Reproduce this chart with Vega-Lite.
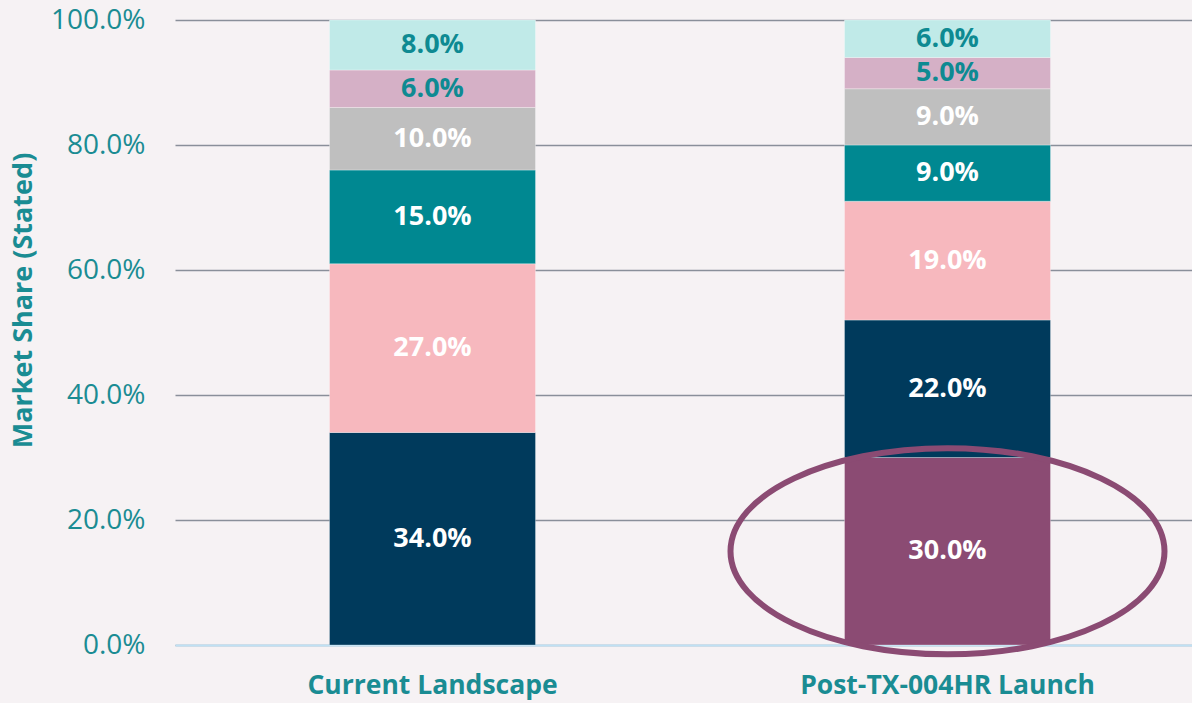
{
  "$schema": "https://vega.github.io/schema/vega-lite/v6.json",
  "autosize": "none",
  "padding": {"left": 175, "top": 20, "right": 0, "bottom": 58},
  "width": 1030,
  "height": 625,
  "background": "#F6F2F4",
  "config": {
    "view": {"stroke": null},
    "font": "Open Sans"
  },
  "datasets": {
    "bars": [
      {"category": "Current Landscape", "segment": "Other A", "share": 34, "order": 1, "labelColor": "white"},
      {"category": "Current Landscape", "segment": "Other B", "share": 27, "order": 2, "labelColor": "white"},
      {"category": "Current Landscape", "segment": "Other C", "share": 15, "order": 3, "labelColor": "white"},
      {"category": "Current Landscape", "segment": "Other D", "share": 10, "order": 4, "labelColor": "white"},
      {"category": "Current Landscape", "segment": "Other E", "share": 6, "order": 5, "labelColor": "teal"},
      {"category": "Current Landscape", "segment": "Other F", "share": 8, "order": 6, "labelColor": "teal"},
      {"category": "Post-TX-004HR Launch", "segment": "TX-004HR", "share": 30, "order": 0, "labelColor": "white"},
      {"category": "Post-TX-004HR Launch", "segment": "Other A", "share": 22, "order": 1, "labelColor": "white"},
      {"category": "Post-TX-004HR Launch", "segment": "Other B", "share": 19, "order": 2, "labelColor": "white"},
      {"category": "Post-TX-004HR Launch", "segment": "Other C", "share": 9, "order": 3, "labelColor": "white"},
      {"category": "Post-TX-004HR Launch", "segment": "Other D", "share": 9, "order": 4, "labelColor": "white"},
      {"category": "Post-TX-004HR Launch", "segment": "Other E", "share": 5, "order": 5, "labelColor": "teal"},
      {"category": "Post-TX-004HR Launch", "segment": "Other F", "share": 6, "order": 6, "labelColor": "teal"}
    ],
    "highlight": [
      {"category": "Post-TX-004HR Launch", "center": 15.0}
    ]
  },
  "encoding": {
    "x": {
      "field": "category",
      "type": "nominal",
      "sort": ["Current Landscape", "Post-TX-004HR Launch"],
      "scale": {"paddingInner": 0.6, "paddingOuter": 0.3},
      "axis": {
        "title": null,
        "labelAngle": 0,
        "labelFont": "Open Sans",
        "labelFontSize": 26.5,
        "labelFontWeight": "bold",
        "labelColor": "#1A8C93",
        "labelPadding": 27,
        "labelLimit": 0,
        "ticks": false,
        "domain": true,
        "domainColor": "#BFE1F4",
        "domainWidth": 2
      }
    }
  },
  "layer": [
    {
      "data": {"name": "bars"},
      "transform": [
        {"stack": "share", "groupby": ["category"], "sort": [{"field": "order"}], "as": ["y0", "y1"]},
        {"calculate": "(datum.y0 + datum.y1) / 2", "as": "mid"},
        {"calculate": "format(datum.share, '.1f') + '%'", "as": "label"}
      ],
      "layer": [
        {
          "mark": {"type": "bar", "stroke": "#ffffff", "strokeWidth": 0.6, "strokeOpacity": 0.5},
          "encoding": {
            "y": {
              "field": "y0",
              "type": "quantitative",
              "scale": {"domain": [0, 100], "nice": false},
              "axis": {
                "title": "Market Share (Stated)",
                "titleFont": "Open Sans",
                "titleFontSize": 27,
                "titleFontWeight": "bold",
                "titleColor": "#1A8C93",
                "titlePadding": 13,
                "titleY": 280,
                "values": [0, 20, 40, 60, 80, 100],
                "labelExpr": "format(datum.value, '.1f') + '%'",
                "labelFont": "Open Sans",
                "labelFontSize": 28,
                "labelColor": "#1A8C93",
                "labelPadding": 30,
                "ticks": false,
                "domain": false,
                "grid": true,
                "gridColor": "#8A8F9A",
                "gridWidth": 1.5
              }
            },
            "y2": {"field": "y1"},
            "color": {
              "field": "segment",
              "type": "nominal",
              "legend": null,
              "scale": {
                "domain": ["TX-004HR", "Other A", "Other B", "Other C", "Other D", "Other E", "Other F"],
                "range": ["#8B4B73", "#003A5C", "#F7B8BE", "#008891", "#BFBFBF", "#D5B0C6", "#C0EAE8"]
              }
            }
          }
        },
        {
          "transform": [{"filter": "datum.labelColor == 'white'"}],
          "mark": {"type": "text", "font": "Open Sans", "fontSize": 27, "fontWeight": "bold", "baseline": "middle", "align": "center", "color": "#FFFFFF"},
          "encoding": {
            "y": {"field": "mid", "type": "quantitative"},
            "text": {"field": "label", "type": "nominal"}
          }
        },
        {
          "transform": [{"filter": "datum.labelColor == 'teal'"}],
          "mark": {"type": "text", "font": "Open Sans", "fontSize": 27, "fontWeight": "bold", "baseline": "middle", "align": "center", "color": "#0E8A92"},
          "encoding": {
            "y": {"field": "mid", "type": "quantitative"},
            "text": {"field": "label", "type": "nominal"}
          }
        }
      ]
    },
    {
      "data": {"name": "highlight"},
      "mark": {
        "type": "point",
        "shape": "M -1 0 A 1 0.475 0 1 1 1 0 A 1 0.475 0 1 1 -1 0 Z",
        "filled": false,
        "stroke": "#8B4B73",
        "strokeWidth": 6,
        "opacity": 1,
        "size": 188356
      },
      "encoding": {
        "y": {"field": "center", "type": "quantitative"}
      }
    }
  ]
}
